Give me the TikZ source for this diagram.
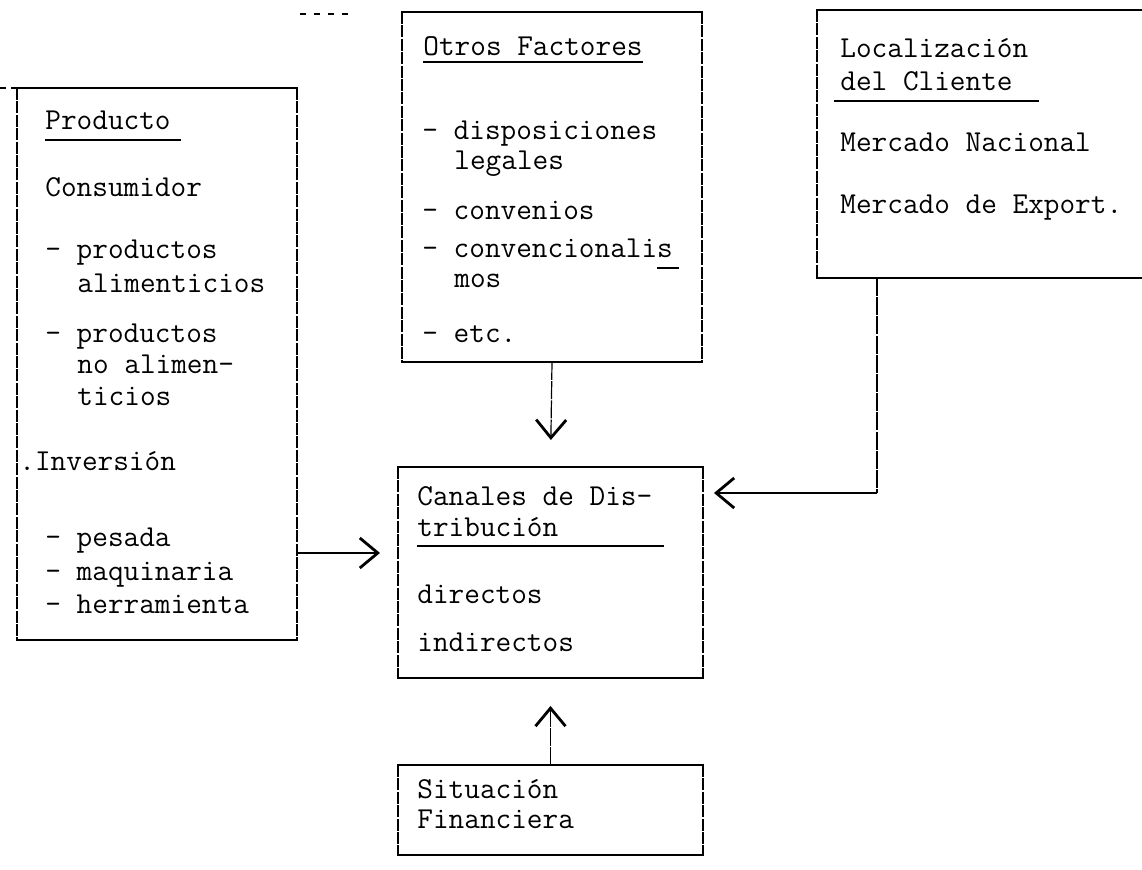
\documentclass[tikz,border=0pt]{standalone}
\usepackage{fontspec}
\usetikzlibrary{arrows.meta}
\newcommand{\drawbox}[1]{%
  \draw[boxside] (#1.north west) -- (#1.south west);
  \draw[boxside] (#1.north east) -- (#1.south east);
  \draw[boxedge] ([xshift=-0.5pt]#1.north west) -- ([xshift=0.5pt]#1.north east);
  \draw[boxedge] ([xshift=-0.5pt]#1.south west) -- ([xshift=0.5pt]#1.south east);}
\tikzset{
  boxside/.style={line width=0.6pt, dash pattern=on 6pt off 0.7pt},
  boxedge/.style={line width=1.4pt},
  frame/.style={draw=none, inner sep=0pt, outer sep=0pt},
  txt/.style={anchor=base west, inner sep=0pt, font=\ttfamily\fontsize{15.2pt}{17pt}\selectfont},
  uline/.style={line width=1.3pt},
  conn/.style={line width=0.6pt, dash pattern=on 9pt off 0.6pt},
  harrow/.style={line width=1.1pt},
  tipv/.style={-{Straight Barb[length=9pt,width=15pt,line width=1.4pt]}},
}
\begin{document}
\begin{tikzpicture}[x=0.5pt,y=-0.5pt]
\useasboundingbox (0,0) rectangle (1142,870);
\clip (0,0) rectangle (1142,870);

% boxes
\node[frame, minimum width=140pt, minimum height=276pt] (prod) at (157,364) {};
\node[frame, minimum width=150pt, minimum height=175pt] (otros) at (552,187) {};
\node[frame, minimum width=166.5pt, minimum height=134pt] (loc) at (983.5,144) {};
\node[frame, minimum width=152.5pt, minimum height=105.5pt] (canal) at (550.5,572.5) {};
\node[frame, minimum width=152.5pt, minimum height=45pt] (sit) at (550.5,810) {};
\drawbox{prod}
\drawbox{otros}
\drawbox{loc}
\drawbox{canal}
\drawbox{sit}
\coordinate (edgeL) at (0,88);
\draw[line width=0.8pt, dash pattern=on 3pt off 2.5pt] (prod.north west) -- (edgeL);
\coordinate (stubA) at (300,14);
\coordinate (stubB) at (352,14);
\draw[line width=0.8pt, dash pattern=on 3pt off 4pt] (stubA) -- (stubB);

% Producto texts
\node[txt] (p1) at (45,130) {Producto};
\node[txt] (p2) at (45,197) {Consumidor};
\node[txt] (p3) at (45,259) {- productos};
\node[txt] (p4) at (77,293) {alimenticios};
\node[txt] (p5) at (45,343) {- productos};
\node[txt] (p6) at (77,374) {no alimen-};
\node[txt] (p7) at (77,406) {ticios};
\node[txt] (p8) at (19,471) {.Inversión};
\node[txt] (p9) at (45,547) {- pesada};
\node[txt] (p10) at (45,581) {- maquinaria};
\node[txt] (p11) at (45,614) {- herramienta};
\draw[uline] ([yshift=-5pt]p1.base west) -- ([yshift=-5pt,xshift=5pt]p1.base east);

% Otros Factores texts
\node[txt] (o1) at (423,56) {Otros Factores};
\node[txt] (o2) at (422,140) {- disposiciones};
\node[txt] (o3) at (454,170) {legales};
\node[txt] (o4) at (422,220) {- convenios};
\node[txt] (o5) at (422,258) {- convencionalis};
\node[txt] (o6) at (454,288) {mos};
\node[txt] (o7) at (422,343) {- etc.};
\draw[uline] ([yshift=-3pt]o1.base west) -- ([yshift=-3pt]o1.base east);
\draw[uline] ([yshift=-5pt,xshift=-8pt]o5.base east) -- ([yshift=-5pt,xshift=3pt]o5.base east);

% Localizacion texts
\node[txt] (l1) at (840,58) {Localización};
\node[txt] (l2) at (840,91) {del Cliente};
\node[txt] (l3) at (840,152) {Mercado Nacional};
\node[txt] (l4) at (840,214) {Mercado de Export.};
\draw[uline] ([yshift=-5pt,xshift=-3pt]l2.base west) -- ([yshift=-5pt,xshift=13pt]l2.base east);

% Canales texts
\node[txt] (c1) at (417,506) {Canales de Dis-};
\node[txt] (c2) at (417,537) {tribución};
\node[txt] (c3) at (417,604) {directos};
\node[txt] (c4) at (417,652) {indirectos};
\coordinate (cu) at (664,546);
\draw[uline] (c2.base west |- cu) -- (cu);

% Situacion texts
\node[txt] (s1) at (417,799) {Situación};
\node[txt] (s2) at (417,829) {Financiera};

% connectors
\coordinate (pa) at (300,553);
\draw[harrow, tipv, shorten >=9pt] (prod.east |- pa) -- (canal.west |- pa);
\draw[conn, tipv, shorten >=13.5pt] (otros.south) -- (canal.north);
\coordinate (bend) at (877,493);
\draw[conn] (loc.south -| bend) -- (bend);
\draw[harrow, tipv, shorten >=5.5pt] (bend) -- (canal.east |- bend);
\draw[conn, tipv, shorten >=14pt] (sit.north) -- (canal.south);
\end{tikzpicture}
\end{document}
